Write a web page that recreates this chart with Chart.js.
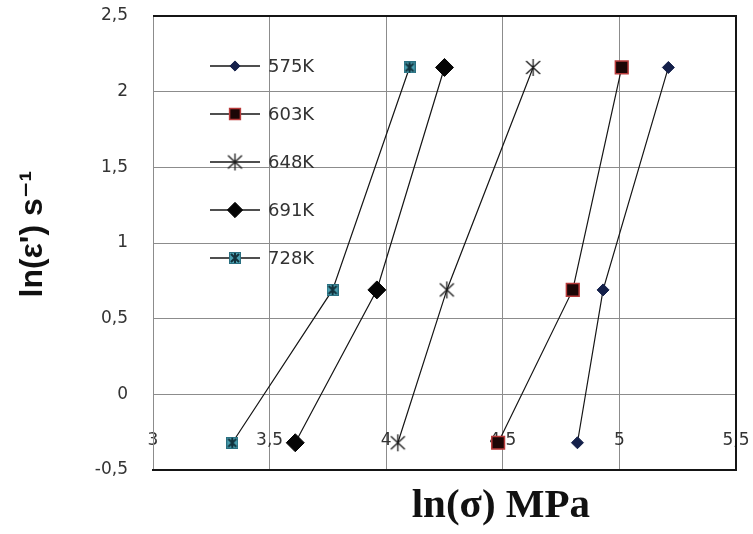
<!DOCTYPE html>
<html>
<head>
<meta charset="utf-8">
<script src="https://cdn.jsdelivr.net/npm/chart.js@4.4.1/dist/chart.umd.min.js"></script>
<style>
  html, body { margin: 0; padding: 0; background: #ffffff; }
  #wrap { width: 753px; height: 534px; }
</style>
</head>
<body>
<div id="wrap"><canvas id="c" width="753" height="534"></canvas></div>
<script>
// ---- data ----
const lnStrainRate = [-0.32, 0.69, 2.16];          // ln(ε') s^-1 (y values)
const seriesLabels = ['575K', '603K', '648K', '691K', '728K'];
const lnStress575 = [4.82, 4.93, 5.21];             // ln(σ) MPa (x values)
const lnStress603 = [4.48, 4.80, 5.01];
const lnStress648 = [4.05, 4.26, 4.63];
const lnStress691 = [3.61, 3.96, 4.25];
const lnStress728 = [3.34, 3.77, 4.10];
const xTickLabels = ['3', '3,5', '4', '4,5', '5', '5,5'];
const yTickLabels = ['-0,5', '0', '0,5', '1', '1,5', '2', '2,5'];

function pts(xs) { return xs.map((x, i) => ({ x: x, y: lnStrainRate[i] })); }

// custom marker images
function starMarker() {
  const c = document.createElement('canvas'); c.width = 19; c.height = 19;
  const g = c.getContext('2d');
  g.strokeStyle = '#1a1a1a'; g.lineWidth = 1.3;
  g.beginPath();
  g.moveTo(2.5, 3); g.lineTo(16.5, 16);
  g.moveTo(16.5, 3); g.lineTo(2.5, 16);
  g.moveTo(9.5, 1); g.lineTo(9.5, 18);
  g.stroke();
  return c;
}
function tealMarker() {
  const c = document.createElement('canvas'); c.width = 12; c.height = 12;
  const g = c.getContext('2d');
  g.fillStyle = '#4a9fb0'; g.fillRect(0, 0, 12, 12);
  g.strokeStyle = '#12323c'; g.lineWidth = 2;
  g.beginPath();
  g.moveTo(2, 2); g.lineTo(10, 10); g.moveTo(10, 2); g.lineTo(2, 10);
  g.moveTo(6, 1); g.lineTo(6, 11);
  g.stroke();
  g.strokeStyle = '#2a6f80'; g.lineWidth = 1; g.strokeRect(0.5, 0.5, 11, 11);
  return c;
}

const lineColor = '#151515';
function ds(label, xs, style, radius, bg, border, bw) {
  return {
    label: label, data: pts(xs), showLine: true,
    borderColor: lineColor, borderWidth: 1.2,
    pointStyle: style, pointRadius: radius, pointHoverRadius: radius,
    pointBackgroundColor: bg, pointBorderColor: border, pointBorderWidth: bw
  };
}

const datasets = [
  ds(seriesLabels[0], lnStress575, 'rectRot', 6, '#14204a', '#14204a', 1),
  ds(seriesLabels[1], lnStress603, 'rect', 9, '#1c0606', '#b83a3a', 1.5),
  ds(seriesLabels[2], lnStress648, starMarker(), 9, '#1a1a1a', '#1a1a1a', 0),
  ds(seriesLabels[3], lnStress691, 'rectRot', 9, '#050505', '#050505', 1),
  ds(seriesLabels[4], lnStress728, tealMarker(), 6, '#4a9fb0', '#12323c', 0)
];

const frame = {
  id: 'frame',
  beforeDatasetsDraw(chart) {
    const { ctx, chartArea: a } = chart;
    ctx.save();
    ctx.strokeStyle = '#151515'; ctx.lineWidth = 2;
    ctx.beginPath();
    ctx.moveTo(a.left, a.top); ctx.lineTo(a.right, a.top);
    ctx.lineTo(a.right, a.bottom); ctx.lineTo(a.left, a.bottom);
    ctx.stroke();
    ctx.restore();
  }
};

const insideLegend = {
  id: 'insideLegend',
  afterDatasetsDraw(chart) {
    const { ctx, chartArea: a } = chart;
    ctx.save();
    chart.data.datasets.forEach((d, i) => {
      const y = a.top + 50 + 48 * i;
      const x0 = a.left + 57, x1 = a.left + 107, xm = a.left + 82;
      ctx.strokeStyle = d.borderColor; ctx.lineWidth = 1.5;
      ctx.beginPath(); ctx.moveTo(x0, y); ctx.lineTo(x1, y); ctx.stroke();
      ctx.fillStyle = d.pointBackgroundColor;
      ctx.strokeStyle = d.pointBorderColor;
      ctx.lineWidth = d.pointBorderWidth;
      Chart.helpers.drawPoint(ctx, {
        pointStyle: d.pointStyle, radius: d.pointRadius * 0.85,
        rotation: 0, borderWidth: d.pointBorderWidth
      }, xm, y);
      ctx.fillStyle = '#333333';
      ctx.font = '18px "DejaVu Sans"';
      ctx.textBaseline = 'middle';
      ctx.textAlign = 'left';
      ctx.fillText(d.label, a.left + 115, y + 1);
    });
    ctx.restore();
  }
};

new Chart(document.getElementById('c'), {
  type: 'scatter',
  data: { datasets: datasets },
  plugins: [frame, insideLegend],
  options: {
    responsive: false,
    animation: false,
    devicePixelRatio: 1,
    layout: { padding: { left: 0, right: 0, top: 16, bottom: 0 } },
    plugins: { legend: { display: false }, tooltip: { enabled: false } },
    scales: {
      x: {
        type: 'linear', position: 'bottom',
        min: 3, max: 5.5,
        afterFit(scale) { scale.height = 64; scale.paddingLeft = 0; scale.paddingRight = 17; },
        ticks: {
          stepSize: 0.5, padding: 19, mirror: true,
          color: '#333333',
          font: { family: '"DejaVu Sans"', size: 17 },
          callback: (v, i) => xTickLabels[i]
        },
        grid: { color: '#8c8c8c', lineWidth: 1, drawTicks: false },
        border: { display: true, color: '#151515', width: 2 },
        title: {
          display: true,
          text: '           ln(σ) MPa',
          color: '#111111',
          font: { family: '"Liberation Serif"', size: 41, weight: 'bold' },
          padding: { top: 0, bottom: 3 }
        }
      },
      y: {
        type: 'linear', position: 'left',
        min: -0.5, max: 2.5,
        afterFit(scale) { scale.width = 153; scale.paddingTop = 10; scale.paddingBottom = 10; },
        ticks: {
          stepSize: 0.5, padding: 25,
          color: '#333333',
          font: { family: '"DejaVu Sans"', size: 17 },
          callback: (v, i) => yTickLabels[i]
        },
        grid: { color: '#8c8c8c', lineWidth: 1, drawTicks: false },
        border: { display: true, color: '#8c8c8c', width: 1 },
        title: {
          display: true,
          text: '  ln(ε\') s\u207B\u00B9',
          color: '#111111',
          font: { family: '"Liberation Sans", "DejaVu Sans"', size: 32, weight: 'bold' },
          padding: { top: 14, bottom: 0 }
        }
      }
    }
  }
});
</script>
</body>
</html>
